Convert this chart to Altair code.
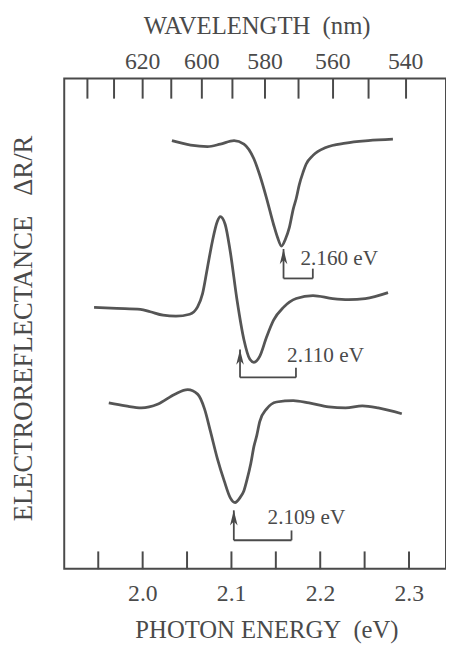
import altair as alt
import pandas as pd

# ---------------- data ----------------
# photon energy (eV) and electroreflectance signal (arbitrary units, offset per curve)
top_e = [2.0333, 2.0544, 2.0733, 2.0878, 2.1033, 2.1144, 2.1256, 2.1322, 2.1400, 2.1478,
         2.1522, 2.1567, 2.1611, 2.1656, 2.1700, 2.1733, 2.1767, 2.1811, 2.1844, 2.1922,
         2.2067, 2.2289, 2.2544, 2.2822]
top_v = [87.3, 86.4, 86.1, 86.6, 87.3, 86.6, 83.6, 80.3, 75.5, 70.2,
         67.6, 65.8, 67.2, 69.6, 73.4, 75.5, 78.3, 80.9, 82.5, 84.3,
         85.9, 86.8, 87.3, 87.6]

mid_e = [1.9456, 1.9711, 1.9978, 2.0089, 2.0233, 2.0378, 2.0533, 2.0622, 2.0678, 2.0733,
         2.0789, 2.0844, 2.0878, 2.0933, 2.0989, 2.1067, 2.1144, 2.1211, 2.1256, 2.1322,
         2.1400, 2.1478, 2.1589, 2.1733, 2.1922, 2.2144, 2.2322, 2.2511, 2.2767]
mid_v = [53.3, 53.1, 52.9, 52.4, 51.7, 51.5, 51.9, 53.4, 56.1, 61.4,
         66.8, 70.8, 71.8, 70.2, 64.8, 54.7, 46.7, 42.7, 42.1, 43.3,
         47.3, 50.7, 53.3, 55.1, 55.7, 55.1, 54.9, 55.1, 56.3]

bot_e = [1.9622, 1.9811, 1.9989, 2.0178, 2.0367, 2.0511, 2.0622, 2.0700, 2.0767, 2.0844,
         2.0922, 2.0989, 2.1044, 2.1100, 2.1144, 2.1178, 2.1222, 2.1256, 2.1289, 2.1322,
         2.1400, 2.1511, 2.1700, 2.1878, 2.2100, 2.2289, 2.2478, 2.2656, 2.2922]
bot_v = [33.8, 33.2, 32.8, 33.6, 35.6, 36.5, 35.6, 32.6, 28.0, 22.5,
         17.9, 14.5, 13.5, 14.5, 15.9, 18.1, 21.5, 24.9, 27.2, 30.0,
         32.6, 34.0, 34.3, 33.8, 33.0, 32.8, 33.2, 32.8, 31.6]

# annotations (transition energies)
ann_label = ["2.160 eV", "2.110 eV", "2.109 eV"]
ann_e = [2.159, 2.110, 2.103]          # arrow position
ann_tip = [65.2, 44.7, 11.9]           # arrow tip level
ann_base = [59.2, 39.0, 5.8]           # bracket level
ann_right_e = [2.192, 2.173, 2.168]    # bracket right end
ann_right_top = [61.2, 41.0, 7.8]      # bracket right end top
ann_text_e = [2.178, 2.163, 2.141]     # label left edge
ann_text_v = [62.0, 42.1, 9.1]         # label baseline

# axis ticks
energy_ticks = [1.95, 2.00, 2.05, 2.10, 2.15, 2.20, 2.25, 2.30]
wave_ticks = [640, 630, 620, 610, 600, 590, 580, 570, 560, 550, 540]
HC = 1239.84  # eV*nm
wave_tick_e = [HC / w for w in wave_ticks]

# ---------------- build tables ----------------
curves = pd.concat([
    pd.DataFrame({"E": top_e, "v": top_v, "curve": "a"}),
    pd.DataFrame({"E": mid_e, "v": mid_v, "curve": "b"}),
    pd.DataFrame({"E": bot_e, "v": bot_v, "curve": "c"}),
], ignore_index=True)

ann = pd.DataFrame({
    "label": ann_label, "E": ann_e, "tip": ann_tip, "base": ann_base,
    "E2": ann_right_e, "top2": ann_right_top, "tE": ann_text_e, "tv": ann_text_v,
})

# ---------------- styling ----------------
font = "Liberation Serif"
ink = "#4a4a4a"
line_col = "#555555"

x_scale = alt.Scale(domain=[1.912, 2.342], nice=False, zero=False)
y_scale = alt.Scale(domain=[0, 100], nice=False, zero=False)

bottom_axis = alt.Axis(
    orient="bottom", values=energy_ticks,
    labelExpr="abs(datum.value*10 - round(datum.value*10)) < 0.001 ? format(datum.value, '.1f') : ''",
    offset=-18, tickSize=18, tickWidth=2, tickColor=ink, domain=False, grid=False,
    labelFont=font, labelFontSize=24, labelColor=ink, labelPadding=32,
    labelBaseline="alphabetic", labelOverlap=False, labelFlush=False,
    title="PHOTON ENERGY\u00a0\u00a0(eV)", titleFont=font, titleFontSize=25,
    titleFontWeight="normal", titleColor=ink, titleBaseline="alphabetic",
    titleAlign="center", titleX=205, titleY=88,
)

top_axis = alt.Axis(
    orient="top", values=wave_tick_e,
    labelExpr="(round(1239.84/datum.value) <= 620 && round(1239.84/datum.value) % 20 == 0) ? format(round(1239.84/datum.value), 'd') : ''",
    offset=-20, tickSize=20, tickWidth=2, tickColor=ink, domain=False, grid=False,
    labelFont=font, labelFontSize=24, labelColor=ink, labelPadding=10,
    labelBaseline="alphabetic", labelOverlap=False, labelFlush=False,
    title="WAVELENGTH\u00a0\u00a0(nm)", titleFont=font, titleFontSize=25,
    titleFontWeight="normal", titleColor=ink, titleBaseline="alphabetic",
    titleAlign="center", titleX=195, titleY=-66,
)

left_axis = alt.Axis(
    orient="left", ticks=False, labels=False, domain=False, grid=False,
    title="ELECTROREFLECTANCE\u00a0\u00a0\u00a0\u0394R/R", titleFont=font, titleFontSize=27,
    titleFontWeight="normal", titleColor=ink, titleBaseline="alphabetic",
    titleAlign="center", titleAngle=270, titleX=-33, titleY=253,
)

lines = alt.Chart(curves).mark_line(
    color=line_col, strokeWidth=2.8, interpolate="monotone"
).encode(
    x=alt.X("E:Q", scale=x_scale, axis=bottom_axis),
    y=alt.Y("v:Q", scale=y_scale, axis=left_axis),
    detail="curve:N",
)

base = alt.Chart(ann)

shaft = base.mark_rule(color=ink, strokeWidth=1.8).encode(
    x=alt.X("E:Q", scale=x_scale, axis=top_axis),
    y=alt.Y("tip:Q", scale=y_scale, axis=None),
    y2="base:Q",
)

bracket = base.mark_rule(color=ink, strokeWidth=1.8).encode(
    x=alt.X("E:Q", scale=x_scale, axis=None),
    x2="E2:Q",
    y=alt.Y("base:Q", scale=y_scale, axis=None),
)

bracket_end = base.mark_rule(color=ink, strokeWidth=1.8).encode(
    x=alt.X("E2:Q", scale=x_scale, axis=None),
    y=alt.Y("base:Q", scale=y_scale, axis=None),
    y2="top2:Q",
)

heads = base.mark_point(
    shape="M0,0L0.55,2.2L0,1.6L-0.55,2.2Z", size=196, filled=True,
    color=ink, opacity=1, strokeWidth=0,
).encode(
    x=alt.X("E:Q", scale=x_scale, axis=None),
    y=alt.Y("tip:Q", scale=y_scale, axis=None),
)

labels = base.mark_text(
    font=font, fontSize=21.5, color=ink, align="left", baseline="alphabetic",
).encode(
    x=alt.X("tE:Q", scale=x_scale, axis=None),
    y=alt.Y("tv:Q", scale=y_scale, axis=None),
    text="label:N",
)

chart = alt.layer(
    lines, shaft, bracket, bracket_end, heads, labels
).resolve_axis(
    x="independent", y="independent"
).properties(
    width=387, height=497,
    autosize=alt.AutoSizeParams(type="none"),
    padding={"left": 57, "top": 67, "right": 0, "bottom": 74},
).configure_view(
    stroke=ink, strokeWidth=2
)

chart.save("out.html", embed_options={"renderer": "svg", "actions": False})
